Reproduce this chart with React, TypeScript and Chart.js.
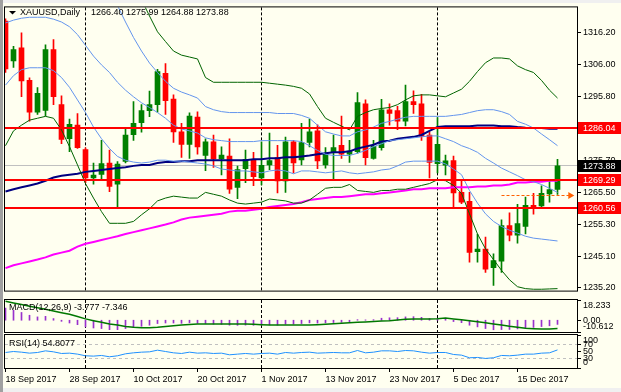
import React, { useEffect, useRef } from 'react';
import { Chart, registerables } from 'chart.js';
Chart.register(...registerables);

const symbol = 'XAUUSD,Daily';

const opens = [
  1319.8, 1307.2, 1311.3, 1301.0, 1290.9, 1291.5, 1310.8, 1293.3, 1282.5, 1286.8,
  1279.1, 1270.1, 1271.2, 1274.8, 1268.1, 1275.3, 1283.8, 1287.6, 1291.4, 1293.3,
  1303.2, 1295.1, 1284.7, 1280.7, 1289.4, 1277.2, 1281.5, 1276.1, 1277.0, 1267.1,
  1273.0, 1276.0, 1270.1, 1274.2, 1276.5, 1269.1, 1281.5, 1275.8, 1281.3, 1285.0,
  1274.2, 1278.1, 1280.4, 1277.6, 1278.4, 1293.6, 1276.3, 1279.7, 1291.7, 1291.4,
  1288.1, 1294.3, 1293.6, 1283.7, 1274.6, 1274.1, 1275.6, 1265.5, 1262.7, 1246.7,
  1247.5, 1241.6, 1243.7, 1255.0, 1251.9, 1254.7, 1261.4, 1261.2, 1265.0, 1266.40,
];
const highs = [
  1320.5, 1311.8, 1316.1, 1301.8, 1298.7, 1312.3, 1313.9, 1296.1, 1288.7, 1290.5,
  1279.6, 1274.8, 1282.0, 1278.9, 1275.3, 1285.6, 1294.3, 1293.3, 1297.6, 1304.5,
  1306.3, 1296.4, 1287.4, 1290.7, 1291.0, 1282.5, 1283.7, 1279.9, 1282.5, 1273.8,
  1278.9, 1278.2, 1281.5, 1284.3, 1280.4, 1283.0, 1282.0, 1287.4, 1288.7, 1286.9,
  1279.7, 1283.7, 1289.7, 1282.0, 1297.1, 1294.8, 1282.0, 1295.0, 1293.6, 1292.8,
  1299.5, 1297.7, 1296.6, 1284.6, 1289.2, 1277.3, 1277.0, 1269.1, 1265.5, 1252.2,
  1251.3, 1246.0, 1256.8, 1259.0, 1261.7, 1264.0, 1265.2, 1267.6, 1269.1, 1275.99,
];
const lows = [
  1303.5, 1305.1, 1295.8, 1288.1, 1290.2, 1289.7, 1293.3, 1280.9, 1278.4, 1279.4,
  1268.6, 1268.1, 1269.6, 1265.7, 1260.4, 1274.8, 1282.0, 1284.6, 1289.5, 1290.9,
  1290.2, 1281.3, 1276.6, 1276.3, 1277.6, 1272.4, 1273.4, 1271.0, 1265.2, 1263.5,
  1268.6, 1267.6, 1267.9, 1272.7, 1265.3, 1265.5, 1271.7, 1274.2, 1279.9, 1273.0,
  1273.2, 1269.8, 1276.3, 1275.0, 1277.9, 1274.2, 1276.0, 1278.9, 1286.8, 1285.4,
  1286.6, 1290.5, 1282.0, 1270.1, 1271.7, 1271.0, 1260.6, 1261.9, 1243.4, 1243.4,
  1240.1, 1236.0, 1240.1, 1250.1, 1249.4, 1252.3, 1258.6, 1260.9, 1262.4, 1264.88,
];
const closes = [
  1304.6, 1310.8, 1300.8, 1290.9, 1296.9, 1310.8, 1295.8, 1282.3, 1287.1, 1279.7,
  1270.1, 1271.0, 1274.6, 1267.4, 1274.5, 1283.7, 1287.4, 1291.4, 1293.3, 1303.8,
  1294.6, 1284.7, 1280.7, 1289.7, 1279.9, 1281.5, 1276.1, 1277.3, 1266.5, 1272.7,
  1276.0, 1270.5, 1274.1, 1275.6, 1269.1, 1281.5, 1274.8, 1281.3, 1284.7, 1275.5,
  1277.9, 1279.7, 1277.6, 1278.6, 1294.0, 1276.5, 1280.1, 1291.7, 1290.5, 1288.1,
  1294.3, 1293.3, 1283.2, 1275.0, 1280.7, 1275.5, 1265.3, 1262.4, 1246.5, 1247.5,
  1241.2, 1243.9, 1255.0, 1251.9, 1255.6, 1261.4, 1260.9, 1265.2, 1266.4, 1273.88,
];

const bbMid = [
  1319.2, 1320.1, 1320.7, 1321.0, 1321.0, 1321.0, 1320.4, 1319.5, 1318.0, 1315.5,
  1312.1, 1308.7, 1305.9, 1303.5, 1300.4, 1297.9, 1295.8, 1293.9, 1292.4, 1290.8,
  1289.0, 1286.8, 1285.6, 1285.0, 1284.3, 1282.8, 1282.2, 1281.9, 1281.6, 1281.6,
  1281.6, 1281.6, 1281.9, 1281.9, 1281.9, 1281.9, 1281.9, 1281.6, 1280.3, 1278.8,
  1277.6, 1277.2, 1277.2, 1277.2, 1277.9, 1278.8, 1280.0, 1280.9, 1281.9, 1282.2,
  1282.5, 1282.8, 1283.1, 1283.4, 1283.4, 1282.5, 1281.6, 1280.3, 1279.4, 1278.2,
  1276.3, 1274.8, 1273.2, 1272.0, 1270.8, 1269.5, 1268.9, 1268.0, 1266.8, 1265.5,
];
const bb1Upper = [
  1338.9, 1337.7, 1337.1, 1337.1, 1337.1, 1337.1, 1336.8, 1337.1, 1337.1, 1336.2,
  1333.4, 1331.2, 1329.4, 1327.5, 1324.7, 1319.5, 1314.6, 1310.3, 1306.5, 1303.5,
  1300.7, 1298.5, 1297.3, 1296.4, 1295.4, 1292.7, 1291.7, 1291.1, 1290.8, 1290.8,
  1290.8, 1290.8, 1290.8, 1290.8, 1290.5, 1290.5, 1290.5, 1289.9, 1289.0, 1286.8,
  1284.7, 1284.0, 1283.4, 1283.4, 1284.7, 1285.3, 1286.2, 1287.4, 1288.0, 1288.7,
  1289.3, 1289.6, 1289.6, 1289.6, 1289.6, 1289.6, 1289.9, 1290.2, 1290.8, 1291.4,
  1291.7, 1291.7, 1291.1, 1290.2, 1288.0, 1287.1, 1285.9, 1284.0, 1282.2, 1280.3,
];
const bb1Lower = [
  1299.5, 1302.5, 1304.4, 1305.0, 1305.0, 1305.0, 1304.1, 1301.9, 1298.8, 1294.8,
  1290.8, 1286.2, 1282.5, 1279.4, 1276.9, 1275.7, 1275.1, 1274.8, 1275.1, 1275.7,
  1275.7, 1275.4, 1275.4, 1275.1, 1274.8, 1274.5, 1273.9, 1272.9, 1272.6, 1272.3,
  1272.3, 1272.0, 1271.7, 1272.3, 1272.6, 1272.3, 1271.4, 1272.3, 1272.3, 1272.0,
  1271.7, 1272.0, 1272.3, 1271.7, 1271.4, 1271.7, 1272.0, 1272.6, 1272.9, 1273.9,
  1275.1, 1275.4, 1275.4, 1275.4, 1275.4, 1274.5, 1272.9, 1271.1, 1266.1, 1262.1,
  1258.7, 1256.3, 1254.7, 1253.5, 1252.6, 1251.6, 1251.0, 1250.7, 1250.4, 1250.1,
];
const bb2Upper = [
  1358.7, 1355.3, 1353.4, 1353.1, 1353.1, 1353.1, 1353.1, 1354.7, 1356.2, 1356.8,
  1354.7, 1353.7, 1352.8, 1351.6, 1349.1, 1341.1, 1333.4, 1326.6, 1321.4, 1316.4,
  1313.3, 1310.3, 1309.0, 1308.4, 1307.8, 1301.9, 1300.4, 1300.4, 1300.4, 1300.4,
  1300.4, 1300.4, 1300.4, 1300.1, 1299.8, 1299.5, 1299.1, 1298.5, 1296.7, 1292.7,
  1289.0, 1287.7, 1286.5, 1285.3, 1289.6, 1290.8, 1291.7, 1292.1, 1292.4, 1293.3,
  1294.8, 1296.1, 1296.4, 1296.4, 1296.1, 1295.8, 1297.0, 1298.2, 1300.7, 1303.8,
  1306.6, 1308.1, 1308.1, 1307.8, 1305.6, 1304.4, 1303.5, 1301.0, 1297.9, 1295.4,
];
const bb2Lower = [
  1280.3, 1285.0, 1286.8, 1288.4, 1289.0, 1289.6, 1289.0, 1285.3, 1280.0, 1274.2,
  1268.3, 1263.7, 1259.4, 1255.7, 1255.7, 1255.7, 1256.3, 1258.4, 1260.3, 1262.8,
  1263.7, 1264.3, 1264.0, 1263.7, 1263.7, 1265.5, 1264.9, 1264.3, 1263.1, 1262.1,
  1261.8, 1262.1, 1262.4, 1263.4, 1263.1, 1262.8, 1262.1, 1262.1, 1263.1, 1264.9,
  1266.8, 1267.1, 1267.1, 1268.0, 1266.1, 1265.8, 1265.5, 1266.1, 1266.1, 1266.5,
  1266.5, 1267.1, 1267.7, 1268.3, 1269.5, 1269.2, 1267.7, 1265.2, 1258.7, 1252.3,
  1247.6, 1244.2, 1240.8, 1237.8, 1235.6, 1235.0, 1234.8, 1234.8, 1234.9, 1235.0,
];
const maNavy = [
  1265.8, 1266.5, 1267.1, 1267.7, 1268.3, 1269.2, 1270.2, 1270.8, 1271.1, 1271.4,
  1272.0, 1272.3, 1272.6, 1272.9, 1273.2, 1273.5, 1273.9, 1274.2, 1274.2, 1274.8,
  1275.1, 1275.1, 1275.4, 1275.4, 1275.7, 1275.7, 1275.7, 1275.7, 1275.7, 1275.7,
  1275.7, 1276.0, 1276.0, 1276.3, 1276.3, 1276.6, 1276.6, 1276.9, 1277.2, 1277.6,
  1277.9, 1278.2, 1278.2, 1278.5, 1279.4, 1280.0, 1280.6, 1281.6, 1281.9, 1282.5,
  1282.8, 1283.1, 1283.7, 1285.0, 1286.2, 1286.5, 1286.5, 1286.5, 1286.5, 1286.7,
  1286.7, 1286.7, 1286.5, 1286.5, 1286.2, 1286.0, 1285.9, 1285.9, 1285.7, 1285.7,
];
const maMagenta = [
  1241.5, 1242.4, 1243.0, 1243.6, 1244.2, 1244.9, 1245.8, 1246.4, 1247.0, 1248.3,
  1249.2, 1249.8, 1250.4, 1251.0, 1251.6, 1252.3, 1252.9, 1253.5, 1254.1, 1254.7,
  1255.3, 1256.0, 1256.9, 1257.5, 1257.8, 1258.1, 1258.4, 1258.7, 1259.4, 1259.7,
  1259.7, 1260.0, 1260.3, 1260.9, 1261.2, 1261.5, 1261.8, 1262.4, 1263.1, 1263.4,
  1263.7, 1264.0, 1264.0, 1264.3, 1264.6, 1264.9, 1264.9, 1265.2, 1265.5, 1265.8,
  1266.1, 1266.5, 1266.5, 1266.8, 1266.8, 1266.8, 1267.1, 1267.1, 1267.1, 1267.4,
  1267.4, 1267.7, 1267.7, 1268.0, 1268.6, 1268.6, 1268.9, 1268.9, 1269.2, 1269.2,
];

const macdMain = [
  11, 9, 7, 4.5, 3, 3.5, 1.5, -1, -2.5, -4,
  -6, -7, -7.5, -8.5, -8.5, -7.5, -6.5, -5.5, -4.5, -3,
  -2.5, -2.5, -2.8, -2.3, -2.8, -3, -3.5, -3.7, -4.5, -4.6,
  -4.4, -4.6, -4.4, -4.2, -4.4, -3.6, -3.5, -3, -2.4, -2.6,
  -2.4, -2.1, -1.9, -1.8, 0.5, 0.3, 0.5, 1.8, 2.2, 2.3,
  3, 3.2, 2.6, 1.6, 1.4, 1, -1.2, -2.2, -4.5, -6,
  -7.5, -8.6, -8.4, -8.3, -7.8, -7, -6.5, -5.7, -5, -3.777,
];
const macdSignal = [
  17.1, 15.6, 14.1, 12.6, 11.2, 9.8, 8.3, 6.8, 5.3, 3.3,
  1.2, -0.4, -1.9, -3.4, -4.4, -5.6, -6.4, -6.8, -6.7, -6.3,
  -5.7, -5.0, -4.4, -3.9, -3.5, -3.4, -3.4, -3.4, -3.4, -3.4,
  -3.4, -3.6, -4.0, -4.3, -4.3, -4.3, -4.3, -4.3, -4.3, -4.0,
  -3.6, -3.2, -2.8, -2.3, -1.9, -1.5, -1.1, -0.8, -0.5, 0.2,
  0.9, 1.2, 1.2, 1.2, 1.3, 2.0, 1.2, 0.5, -0.4, -1.3,
  -2.3, -3.4, -4.4, -5.5, -6.4, -7.3, -7.7, -8.0, -7.8, -7.346,
];
const rsiValues = [
  47, 50, 48, 45, 47, 52, 49, 44, 45, 42,
  37, 36, 38, 34, 37, 43, 46, 48, 49, 54,
  50, 46, 44, 48, 45, 46, 44, 45, 40, 42,
  44, 42, 44, 45, 42, 47, 45, 47, 48, 45,
  46, 47, 46, 46, 53, 46, 48, 52, 52, 50,
  53, 52, 48, 45, 47, 47, 41, 39, 31, 32,
  29, 31, 38, 37, 39, 42, 42, 45, 46, 54.8077,
];

const priceTicks = [1316.2, 1306.0, 1295.8, 1285.6, 1275.7, 1265.5, 1255.3, 1245.1, 1235.2];
const macdTicks = [18.233, 0, -10.612];
const rsiTicks = [100, 70, 50, 30, 0];
const rsiLevels = [70, 30];
const dateTickIdx = [0, 8, 16, 24, 32, 40, 48, 56, 64];
const dateTickLabels = ['18 Sep 2017', '28 Sep 2017', '10 Oct 2017', '20 Oct 2017', '1 Nov 2017', '13 Nov 2017', '23 Nov 2017', '5 Dec 2017', '15 Dec 2017'];
const separatorIdx = [10, 32, 54];
const levelPrices = [1286.04, 1269.29, 1260.56];
const arrowFrom = 62;
const arrowTo = 71.1;
const arrowPrice = 1264.5;

const FAMILY = '"Liberation Sans", Arial, sans-serif';
const FONT = '9px ' + FAMILY;
const X_MIN = -0.0625;
const X_MAX = 71.4375;
const last = closes.length - 1;
const bid = closes[last];

const pts = (arr: number[]) => arr.map((v, i) => ({ x: i, y: v }));

function lineDs(arr: number[], color: string, width: number) {
  return {
    type: 'line' as const,
    data: pts(arr),
    borderColor: color,
    borderWidth: width,
    pointRadius: 0,
    tension: 0,
    fill: false,
    clip: 0,
    order: 0,
  };
}

function drawSeparators(chart: any) {
  const { ctx, chartArea: a, scales } = chart;
  ctx.save();
  ctx.strokeStyle = '#000';
  ctx.lineWidth = 1;
  ctx.setLineDash([3, 2]);
  separatorIdx.forEach((i) => {
    const px = Math.floor(scales.x.getPixelForValue(i)) + 0.5;
    ctx.beginPath();
    ctx.moveTo(px, a.top);
    ctx.lineTo(px, a.bottom);
    ctx.stroke();
  });
  ctx.restore();
}

function drawBorder(chart: any) {
  const { ctx, chartArea: a } = chart;
  ctx.save();
  ctx.strokeStyle = '#000';
  ctx.lineWidth = 1;
  ctx.strokeRect(a.left - 0.5, a.top - 0.5, a.right - a.left + 1, a.bottom - a.top + 1);
  ctx.restore();
}

function drawSideLabels(chart: any, ticks: number[], fmt: (v: number) => string) {
  const { ctx, chartArea: a, scales } = chart;
  ctx.save();
  ctx.font = FONT;
  ctx.fillStyle = '#000';
  ctx.strokeStyle = '#000';
  ctx.lineWidth = 1;
  ctx.textBaseline = 'middle';
  ticks.forEach((v) => {
    const py = scales.y.getPixelForValue(v);
    let ty = py;
    if (py - 5 < a.top) ty = a.top + 5.5;
    else if (py + 5 > a.bottom) ty = a.bottom - 5;
    ctx.fillText(fmt(v), a.right + 6, ty);
    const ly = Math.floor(py) + 0.5;
    ctx.beginPath();
    ctx.moveTo(a.right, ly);
    ctx.lineTo(a.right + 4, ly);
    ctx.stroke();
  });
  ctx.restore();
}

export default function App() {
  const mainRef = useRef<HTMLCanvasElement>(null);
  const macdRef = useRef<HTMLCanvasElement>(null);
  const rsiRef = useRef<HTMLCanvasElement>(null);

  useEffect(() => {
    document.body.style.margin = '0';
    Chart.defaults.font.family = FAMILY;
    const candleColors = closes.map((c, i) => (c >= opens[i] ? '#008000' : '#ff0000'));
    const xHidden: any = { type: 'linear', min: X_MIN, max: X_MAX, display: false, offset: false };

    const mainPlugin = {
      id: 'mainDecor',
      beforeDatasetsDraw(chart: any) {
        drawSeparators(chart);
        const { ctx, chartArea: a, scales } = chart;
        const by = Math.floor(scales.y.getPixelForValue(bid)) + 0.5;
        ctx.save();
        ctx.strokeStyle = '#c0c0c0';
        ctx.lineWidth = 1;
        ctx.beginPath();
        ctx.moveTo(a.left, by);
        ctx.lineTo(a.right, by);
        ctx.stroke();
        ctx.restore();
      },
      afterDatasetsDraw(chart: any) {
        const { ctx, chartArea: a, scales } = chart;
        ctx.save();
        ctx.beginPath();
        ctx.rect(a.left, a.top, a.right - a.left, a.bottom - a.top);
        ctx.clip();
        ctx.strokeStyle = '#ff0000';
        ctx.lineWidth = 2;
        levelPrices.forEach((p) => {
          const py = Math.round(scales.y.getPixelForValue(p));
          ctx.beginPath();
          ctx.moveTo(a.left, py);
          ctx.lineTo(a.right, py);
          ctx.stroke();
        });
        const ay = Math.floor(scales.y.getPixelForValue(arrowPrice)) + 0.5;
        const x0 = scales.x.getPixelForValue(arrowFrom);
        const x1 = scales.x.getPixelForValue(arrowTo);
        ctx.strokeStyle = '#ff6000';
        ctx.fillStyle = '#ff6000';
        ctx.lineWidth = 1;
        ctx.setLineDash([3, 2]);
        ctx.beginPath();
        ctx.moveTo(x0, ay);
        ctx.lineTo(x1 - 5, ay);
        ctx.stroke();
        ctx.setLineDash([]);
        ctx.beginPath();
        ctx.moveTo(x1 - 6, ay - 3.5);
        ctx.lineTo(x1, ay);
        ctx.lineTo(x1 - 6, ay + 3.5);
        ctx.closePath();
        ctx.fill();
        ctx.restore();
      },
      afterDraw(chart: any) {
        drawBorder(chart);
        const { ctx, chartArea: a, scales } = chart;
        ctx.save();
        ctx.font = FONT;
        ctx.textBaseline = 'middle';
        const box = (v: number, bg: string) => {
          const py = Math.round(scales.y.getPixelForValue(v));
          ctx.fillStyle = bg;
          ctx.fillRect(a.right + 1, py - 6, chart.width - a.right - 1, 12);
          ctx.fillStyle = '#fff';
          ctx.fillText(v.toFixed(2), a.right + 6, py + 0.5);
        };
        box(bid, '#000');
        levelPrices.forEach((p) => box(p, '#ff0000'));
        ctx.fillStyle = '#000';
        ctx.beginPath();
        ctx.moveTo(9, 11);
        ctx.lineTo(16, 11);
        ctx.lineTo(12.5, 14.5);
        ctx.closePath();
        ctx.fill();
        ctx.fillText(symbol, 20, 13);
        ctx.fillText([opens[last], highs[last], lows[last], closes[last]].map((v) => v.toFixed(2)).join(' '), 91, 13);
        ctx.restore();
      },
    };

    const main = new Chart(mainRef.current!, {
      type: 'bar',
      data: {
        datasets: [
          lineDs(bb2Upper, '#006400', 1),
          lineDs(bb2Lower, '#006400', 1),
          lineDs(bb1Upper, '#6495ed', 1),
          lineDs(bbMid, '#6495ed', 1),
          lineDs(bb1Lower, '#6495ed', 1),
          lineDs(maMagenta, '#ff00ff', 2),
          lineDs(maNavy, '#000080', 2),
          {
            type: 'bar',
            data: opens.map((o, i) => ({ x: i, y: [o, closes[i]] })),
            backgroundColor: candleColors,
            borderWidth: 0,
            grouped: false,
            barPercentage: 1,
            categoryPercentage: 1,
            maxBarThickness: 5,
            minBarLength: 1,
            clip: 0,
            order: 1,
          } as any,
          {
            type: 'bar',
            data: opens.map((o, i) => ({ x: i, y: [lows[i], highs[i]] })),
            backgroundColor: candleColors,
            borderWidth: 0,
            grouped: false,
            barPercentage: 1,
            categoryPercentage: 1,
            maxBarThickness: 1,
            clip: 0,
            order: 2,
          } as any,
        ],
      },
      options: {
        animation: false,
        responsive: false,
        events: [],
        layout: { padding: { left: 5, top: 5, right: 0, bottom: 2 } },
        plugins: { legend: { display: false }, tooltip: { enabled: false } },
        scales: {
          x: xHidden,
          y: {
            type: 'linear',
            position: 'right',
            min: 1234.37,
            max: 1324.13,
            beginAtZero: false,
            afterFit: (s: any) => { s.width = 44; },
            afterBuildTicks: (s: any) => { s.ticks = priceTicks.map((v) => ({ value: v })); },
            ticks: {
              callback: (v: any) => Number(v).toFixed(2),
              font: { family: FAMILY, size: 9 },
              color: '#000',
              padding: 2,
            },
            grid: { drawOnChartArea: false, drawTicks: true, tickLength: 4, color: '#000', lineWidth: 1 },
            border: { display: false },
          },
        },
      } as any,
      plugins: [mainPlugin],
    });

    const macdPlugin = {
      id: 'macdDecor',
      beforeDatasetsDraw(chart: any) { drawSeparators(chart); },
      afterDraw(chart: any) {
        drawBorder(chart);
        drawSideLabels(chart, macdTicks, (v) => (v === 0 ? '0.00' : v.toFixed(3)));
        const { ctx } = chart;
        ctx.save();
        ctx.font = FONT;
        ctx.fillStyle = '#000';
        ctx.textBaseline = 'middle';
        ctx.fillText('MACD(12,26,9) ' + macdMain[last].toFixed(3) + ' ' + macdSignal[last].toFixed(3), 9, 10);
        ctx.restore();
      },
    };

    const macd = new Chart(macdRef.current!, {
      type: 'bar',
      data: {
        datasets: [
          {
            type: 'line',
            data: pts(macdSignal),
            borderColor: '#007800',
            borderWidth: 1.5,
            pointRadius: 0,
            tension: 0,
            clip: 0,
            order: 0,
          } as any,
          {
            type: 'bar',
            data: pts(macdMain),
            backgroundColor: '#9932cc',
            borderWidth: 0,
            grouped: false,
            barPercentage: 1,
            categoryPercentage: 1,
            maxBarThickness: 1,
            clip: 0,
            order: 1,
          } as any,
        ],
      },
      options: {
        animation: false,
        responsive: false,
        events: [],
        layout: { padding: { left: 5, top: 2, right: 44, bottom: 2 } },
        plugins: { legend: { display: false }, tooltip: { enabled: false } },
        scales: {
          x: xHidden,
          y: { type: 'linear', min: -10.612, max: 18.233, display: false, beginAtZero: false },
        },
      } as any,
      plugins: [macdPlugin],
    });

    const rsiPlugin = {
      id: 'rsiDecor',
      beforeDatasetsDraw(chart: any) {
        drawSeparators(chart);
        const { ctx, chartArea: a, scales } = chart;
        ctx.save();
        ctx.strokeStyle = '#c0c0c0';
        ctx.lineWidth = 1;
        ctx.setLineDash([3, 3]);
        rsiLevels.forEach((lv) => {
          const py = Math.floor(scales.y.getPixelForValue(lv)) + 0.5;
          ctx.beginPath();
          ctx.moveTo(a.left, py);
          ctx.lineTo(a.right, py);
          ctx.stroke();
        });
        ctx.restore();
      },
      afterDraw(chart: any) {
        drawBorder(chart);
        drawSideLabels(chart, rsiTicks, (v) => String(v));
        const { ctx } = chart;
        ctx.save();
        ctx.font = FONT;
        ctx.fillStyle = '#000';
        ctx.textBaseline = 'middle';
        ctx.fillText('RSI(14) ' + rsiValues[last].toFixed(4), 9, 9.5);
        ctx.restore();
      },
    };

    const rsi = new Chart(rsiRef.current!, {
      type: 'line',
      data: {
        datasets: [
          {
            data: pts(rsiValues),
            borderColor: '#1e90ff',
            borderWidth: 1,
            pointRadius: 0,
            tension: 0,
            clip: 0,
          } as any,
        ],
      },
      options: {
        animation: false,
        responsive: false,
        events: [],
        layout: { padding: { left: 5, top: 1, right: 44, bottom: 0 } },
        plugins: { legend: { display: false }, tooltip: { enabled: false } },
        scales: {
          x: {
            type: 'linear',
            min: X_MIN,
            max: X_MAX,
            offset: false,
            afterFit: (s: any) => { s.height = 24; },
            afterBuildTicks: (s: any) => { s.ticks = dateTickIdx.map((v) => ({ value: v })); },
            ticks: {
              autoSkip: false,
              maxRotation: 0,
              align: 'start',
              padding: 2,
              font: { family: FAMILY, size: 9 },
              color: '#000',
              callback: (v: any) => {
                const k = dateTickIdx.indexOf(Number(v));
                return k >= 0 ? dateTickLabels[k] : '';
              },
            },
            grid: { drawOnChartArea: false, drawTicks: true, tickLength: 4, color: '#000', lineWidth: 1 },
            border: { display: false },
          },
          y: { type: 'linear', min: 0, max: 100, display: false },
        },
      } as any,
      plugins: [rsiPlugin],
    });

    return () => {
      main.destroy();
      macd.destroy();
      rsi.destroy();
    };
  }, []);

  return (
    <div style={{ position: 'fixed', left: 0, top: 0, width: 621, height: 392, background: '#f0f0f0', overflow: 'hidden' }}>
      <div style={{ position: 'absolute', left: 0, top: 0, width: 3, height: 392, background: '#a0a0a0' }} />
      <div style={{ position: 'absolute', left: 3, top: 3, width: 618, height: 385, background: '#fffff0' }} />
      <canvas ref={mainRef} width={621} height={298} style={{ position: 'absolute', left: 0, top: 0 }} />
      <canvas ref={macdRef} width={621} height={36} style={{ position: 'absolute', left: 0, top: 298 }} />
      <canvas ref={rsiRef} width={621} height={58} style={{ position: 'absolute', left: 0, top: 334 }} />
    </div>
  );
}
